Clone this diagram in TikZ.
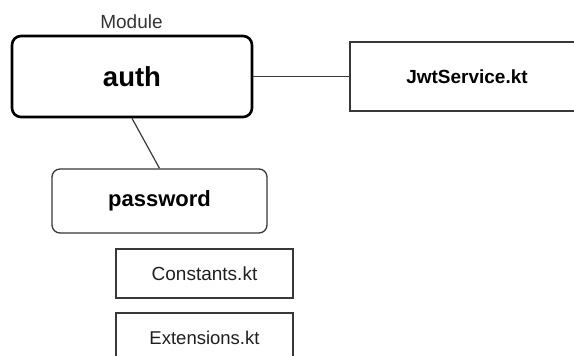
\documentclass[tikz,border=0pt]{standalone}
\usepackage{fontspec}
\setmainfont{Liberation Sans}
\begin{document}
\begin{tikzpicture}[x=1pt,y=-1pt,
  box/.style={draw=black!78,line width=1.3pt,inner sep=0pt,align=center,text=black!88},
  module/.style={box,draw=black,line width=2.6pt,rounded corners=9pt,text=black},
  pkg/.style={box,rounded corners=8pt,text=black},
  link/.style={draw=black!78,line width=1.2pt}]
  \useasboundingbox (0,0) rectangle (574,356);
  \clip (0,0) rectangle (574,356);

  % module and its files
  \node[module,minimum width=240pt,minimum height=81pt,font=\fontsize{27.5}{30}\selectfont\bfseries]
    (auth) at (132,76.5) {auth};
  \node[text=black!80,font=\fontsize{19}{22}\selectfont,anchor=base] (lbl) at (131.5,28) {Module};
  \node[box,minimum width=234pt,minimum height=69pt,font=\fontsize{19}{22}\selectfont\bfseries,text=black]
    (jwt) at (467,76.5) {JwtService.kt};

  % sub-package and loose files
  \node[pkg,minimum width=215pt,minimum height=64pt,font=\fontsize{22}{25}\selectfont\bfseries]
    (pwd) at (159.5,201) {password};
  \node[box,minimum width=177pt,minimum height=49pt,font=\fontsize{19}{22}\selectfont]
    (const) at (204.5,273.5) {Constants.kt};
  \node[box,minimum width=177pt,minimum height=49pt,font=\fontsize{18.5}{22}\selectfont]
    (ext) at (204.5,337.5) {Extensions.kt};

  % connectors
  \draw[link] (auth.east) -- (jwt.west);
  \draw[link] (auth.south) -- (pwd.north);
\end{tikzpicture}
\end{document}
